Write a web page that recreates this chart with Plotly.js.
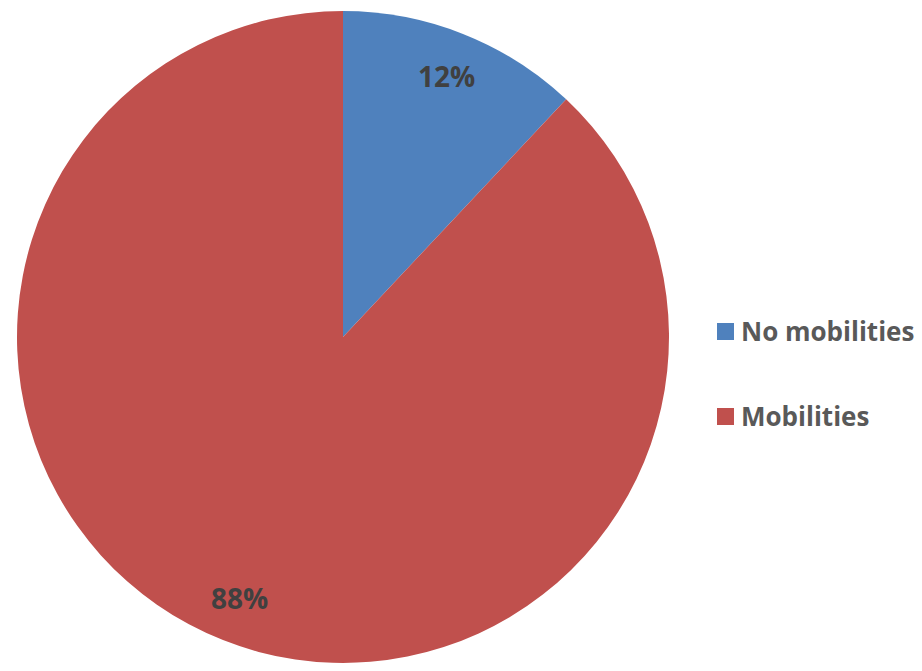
<!DOCTYPE html>
<html>
<head>
<meta charset="utf-8">
<script src="https://cdn.plot.ly/plotly-3.0.1.min.js"></script>
<style>html,body{margin:0;padding:0;background:#fff;}#chart{width:922px;height:671px;}</style>
</head>
<body>
<div id="chart"></div>
<script>
const categories = ["No mobilities", "Mobilities"];
const values = [12, 88];
const colors = ["#4F81BD", "#C0504D"];

const W = 922, H = 671;
const cx = 343, cy = 337, R = 326;
const total = values.reduce((a, b) => a + b, 0);
const FONT = "'Open Sans', sans-serif";

const annotations = [];
let cum = 0;
values.forEach((v, i) => {
  const mid = (cum + v / 2) / total * 2 * Math.PI;
  cum += v;
  const rf = 0.86;
  const x = cx + rf * R * Math.sin(mid);
  const y = cy - rf * R * Math.cos(mid);
  annotations.push({
    xref: "paper", yref: "paper", x: x / W, y: 1 - y / H,
    text: "<b>" + Math.round(v / total * 100) + "%</b>", showarrow: false,
    font: {family: FONT, size: 28, color: "#404040"},
    xanchor: "center", yanchor: "middle"
  });
});

const shapes = [];
const legendY = [331, 416];
categories.forEach((c, i) => {
  shapes.push({type: "rect", xref: "paper", yref: "paper",
    x0: 717 / W, x1: 734 / W, y0: 1 - (legendY[i] + 9) / H, y1: 1 - (legendY[i] - 8) / H,
    fillcolor: colors[i], line: {width: 0}});
  annotations.push({
    xref: "paper", yref: "paper", x: 739 / W, y: 1 - legendY[i] / H,
    text: "<b>" + c + "</b>", showarrow: false,
    font: {family: FONT, size: 26, color: "#595959"},
    xanchor: "left", yanchor: "middle"
  });
});

const data = [{
  type: "pie",
  labels: categories,
  values: values,
  marker: {colors: colors, line: {width: 0}},
  sort: false,
  direction: "clockwise",
  rotation: 0,
  textinfo: "none",
  hoverinfo: "label+percent",
  domain: {x: [(cx - R) / W, (cx + R) / W], y: [1 - (cy + R) / H, 1 - (cy - R) / H]}
}];

const layout = {
  width: W, height: H,
  margin: {l: 0, r: 0, t: 0, b: 0},
  paper_bgcolor: "#ffffff",
  showlegend: false,
  annotations: annotations,
  shapes: shapes
};

Plotly.newPlot("chart", data, layout, {displayModeBar: false, staticPlot: true});
</script>
</body>
</html>
